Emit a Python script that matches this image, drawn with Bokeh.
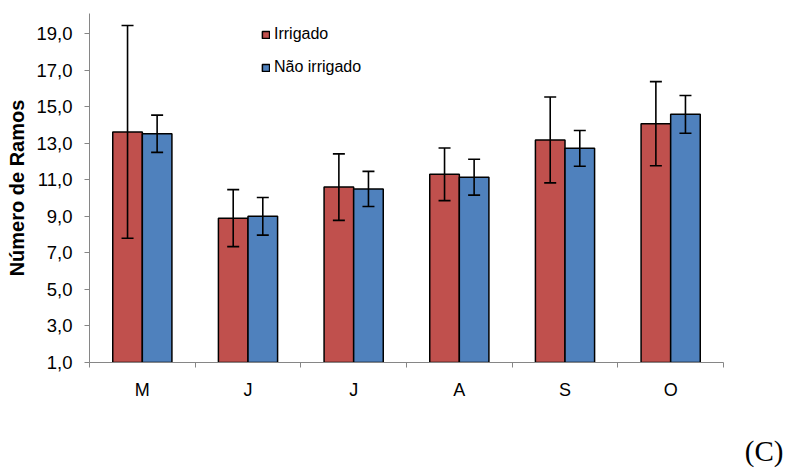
import numpy as np
from bokeh.plotting import figure
from bokeh.models import ColumnDataSource, FixedTicker, Whisker, TeeHead, Range1d, Title
from bokeh.embed import file_html
from bokeh.resources import INLINE

# ---- data ----
months = ["M", "J", "J", "A", "S", "O"]
irrigado = [13.62, 8.90, 10.60, 11.30, 13.18, 14.07]
irrigado_err = [5.82, 1.56, 1.82, 1.44, 2.35, 2.30]
nao_irrigado = [13.52, 9.00, 10.50, 11.14, 12.72, 14.58]
nao_irrigado_err = [1.02, 1.03, 0.96, 0.98, 0.98, 1.03]
y_ticks = [1, 3, 5, 7, 9, 11, 13, 15, 17, 19]
y_tick_labels = ["1,0", "3,0", "5,0", "7,0", "9,0", "11,0", "13,0", "15,0", "17,0", "19,0"]
series_names = ["Irrigado", "Não irrigado"]
panel_tag = "(C)"

RED = "#C0504D"
BLUE = "#4F81BD"
AXIS_GRAY = "#868686"
FONT = "Liberation Sans"
BAR_W = 0.28

idx = np.arange(len(months))
centers = idx + 0.5

src_r = ColumnDataSource(dict(
    x=centers - BAR_W / 2, top=irrigado,
    upper=np.array(irrigado) + np.array(irrigado_err),
    lower=np.array(irrigado) - np.array(irrigado_err)))
src_b = ColumnDataSource(dict(
    x=centers + BAR_W / 2, top=nao_irrigado,
    upper=np.array(nao_irrigado) + np.array(nao_irrigado_err),
    lower=np.array(nao_irrigado) - np.array(nao_irrigado_err)))

p = figure(width=785, height=468, output_backend="svg", toolbar_location=None,
           x_range=Range1d(0, len(months)), y_range=Range1d(1, 20.1),
           min_border_left=89, min_border_right=62, min_border_top=13, min_border_bottom=106)
p.outline_line_color = None
p.xgrid.visible = False
p.ygrid.visible = False
p.background_fill_color = "white"
p.border_fill_color = "white"

p.vbar(x="x", top="top", bottom=1, width=BAR_W, source=src_r, fill_color=RED,
       line_color="black", line_width=1.5, legend_label=series_names[0])
p.vbar(x="x", top="top", bottom=1, width=BAR_W, source=src_b, fill_color=BLUE,
       line_color="black", line_width=1.5, legend_label=series_names[1])

for src in (src_r, src_b):
    w = Whisker(source=src, base="x", upper="upper", lower="lower",
                line_color="black", line_width=1.6, level="overlay",
                upper_head=TeeHead(size=12, line_color="black", line_width=1.6),
                lower_head=TeeHead(size=12, line_color="black", line_width=1.6))
    p.add_layout(w)

# x axis: labels at category centres, tick marks at boundaries
xa = p.xaxis[0]
xa.ticker = FixedTicker(ticks=list(centers), minor_ticks=list(range(len(months) + 1)))
xa.major_label_overrides = {float(c): m for c, m in zip(centers, months)}
xa.major_tick_line_color = None
xa.major_tick_out = 0
xa.major_tick_in = 0
xa.minor_tick_line_color = AXIS_GRAY
xa.minor_tick_out = 5
xa.minor_tick_in = 0
xa.axis_line_color = AXIS_GRAY
xa.major_label_text_font = FONT
xa.major_label_text_font_size = "18px"
xa.major_label_text_color = "black"
xa.major_label_standoff = 12
# blank axis label only reserves room so the panel tag sits at the bottom edge
xa.axis_label = " "
xa.axis_label_standoff = 0
xa.axis_label_text_font_size = "24px"

ya = p.yaxis[0]
ya.ticker = FixedTicker(ticks=y_ticks, minor_ticks=[])
ya.major_label_overrides = {t: l for t, l in zip(y_ticks, y_tick_labels)}
ya.axis_line_color = AXIS_GRAY
ya.major_tick_line_color = AXIS_GRAY
ya.major_tick_out = 5
ya.major_tick_in = 0
ya.minor_tick_line_color = None
ya.major_label_text_font = FONT
ya.major_label_text_font_size = "18.5px"
ya.major_label_text_color = "black"
ya.major_label_standoff = 12
ya.axis_label = "Número de Ramos"
ya.axis_label_text_font = FONT
ya.axis_label_text_font_style = "bold"
ya.axis_label_text_font_size = "20px"
ya.axis_label_text_color = "black"
ya.axis_label_standoff = 5

lg = p.legend[0]
lg.location = (172, 285)
lg.padding = 0
lg.margin = 0
lg.spacing = 13
lg.glyph_width = 9
lg.glyph_height = 9
lg.label_height = 20
lg.label_standoff = 4
lg.border_line_color = None
lg.background_fill_alpha = 0
lg.label_text_font = FONT
lg.label_text_font_size = "16px"
lg.label_text_color = "black"

p.add_layout(Title(text=panel_tag, align="right", offset=-60, standoff=0,
                   text_font="Liberation Serif", text_font_size="29px",
                   text_font_style="normal", text_color="black"), "below")

open("out.html", "w").write(file_html(p, INLINE))
